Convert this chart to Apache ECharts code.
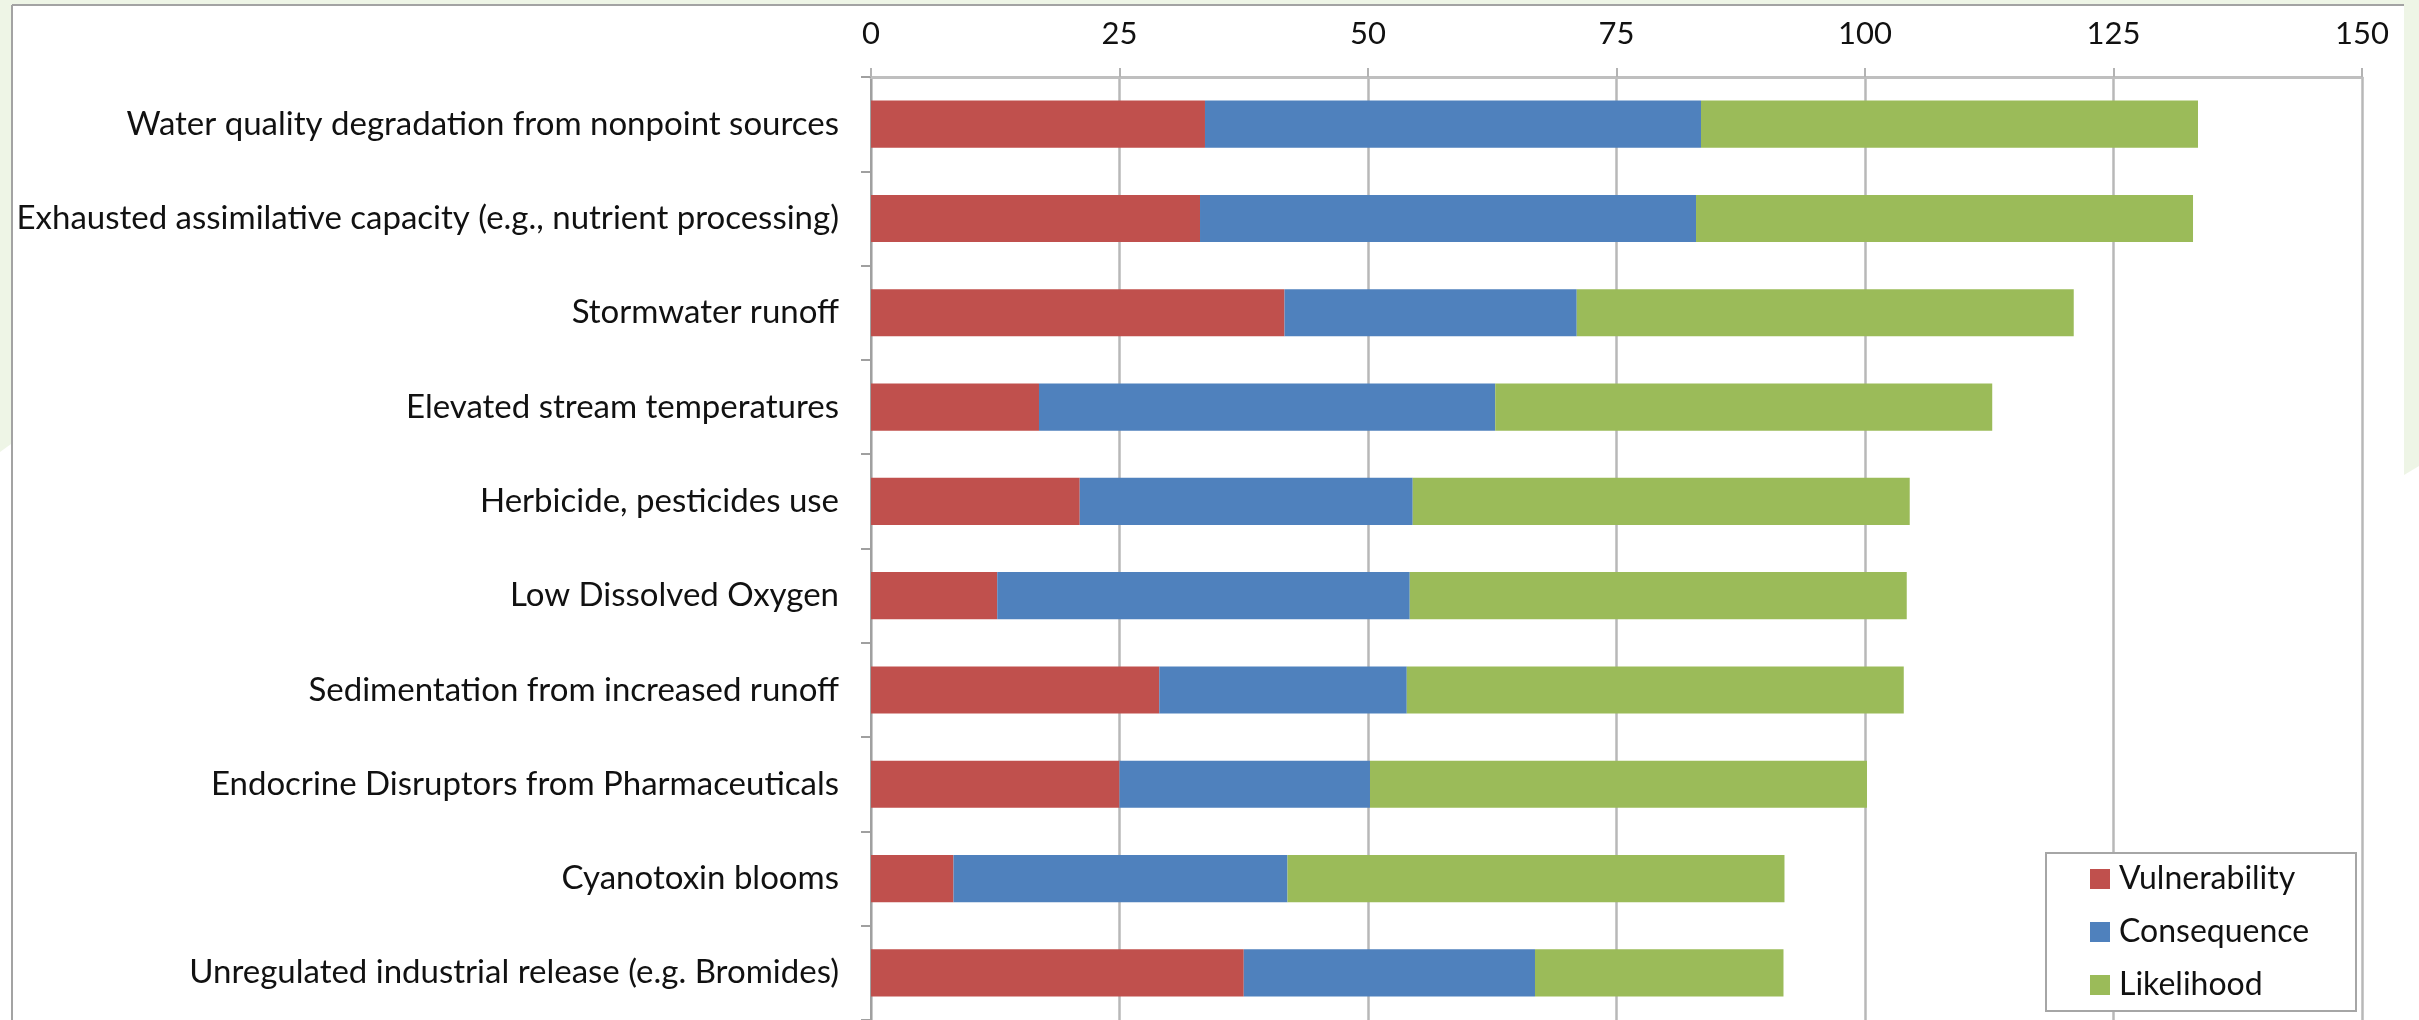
<!DOCTYPE html>
<html>
<head>
<meta charset="utf-8">
<title>Water quality stressors</title>
<script src="https://cdn.jsdelivr.net/npm/echarts@6/dist/echarts.min.js"></script>
<style>
  html, body { margin: 0; padding: 0; background: #ffffff; }
  #chart { width: 2419px; height: 1020px; }
</style>
</head>
<body>
<div id="chart"></div>
<script>
// Stressors, ranked top to bottom by combined score
const categories = [
  'Water quality degradation from nonpoint sources',
  'Exhausted assimilative capacity (e.g., nutrient processing)',
  'Stormwater runoff',
  'Elevated stream temperatures',
  'Herbicide, pesticides use',
  'Low Dissolved Oxygen',
  'Sedimentation from increased runoff',
  'Endocrine Disruptors from Pharmaceuticals',
  'Cyanotoxin blooms',
  'Unregulated industrial release (e.g. Bromides)'
];

// Score components (stacked)
const vulnerability = [33.6, 33.1, 41.6, 16.9, 21.0, 12.7, 29.0, 25.0, 8.3, 37.5];
const consequence   = [49.9, 49.9, 29.4, 45.9, 33.5, 41.5, 24.9, 25.2, 33.6, 29.3];
const likelihood    = [50, 50, 50, 50, 50, 50, 50, 50, 50, 25];

const seriesNames = ['Vulnerability', 'Consequence', 'Likelihood'];
const seriesColors = ['#C0504D', '#4F81BD', '#9BBB59'];

// Value axis ticks
const axisMin = 0;
const axisMax = 150;
const axisStep = 25;

const FONT = 'Lato, "Open Sans", sans-serif';
const SLIDE_GREEN = '#EEF5E6';
const FRAME_GRAY = '#A3A3A3';

const chart = echarts.init(document.getElementById('chart'), null, { renderer: 'canvas' });

const seriesData = [vulnerability, consequence, likelihood];

const option = {
  backgroundColor: '#ffffff',
  animation: false,
  textStyle: { fontFamily: FONT },
  graphic: [
    // slide background strips around the chart frame
    { type: 'rect', shape: { x: 0, y: 0, width: 2419, height: 5 }, style: { fill: SLIDE_GREEN }, silent: true },
    { type: 'polygon', shape: { points: [[0, 0], [11, 0], [11, 444], [0, 452]] }, style: { fill: SLIDE_GREEN }, silent: true },
    { type: 'polygon', shape: { points: [[2404, 0], [2419, 0], [2419, 466], [2404, 475]] }, style: { fill: SLIDE_GREEN }, silent: true },
    // chart frame edges
    { type: 'line', shape: { x1: 12, y1: 5, x2: 2404, y2: 5 }, style: { stroke: FRAME_GRAY, lineWidth: 2 }, silent: true },
    { type: 'line', shape: { x1: 12, y1: 5, x2: 12, y2: 1020 }, style: { stroke: FRAME_GRAY, lineWidth: 2 }, silent: true }
  ],
  grid: {
    left: 871,
    top: 77,
    width: 1491,
    height: 945,
    containLabel: false
  },
  legend: {
    orient: 'vertical',
    left: 2046,
    top: 853,
    padding: [10, 10, 10, 44],
    itemWidth: 20,
    itemHeight: 20,
    itemGap: 21,
    icon: 'rect',
    backgroundColor: '#ffffff',
    borderColor: '#A6A6A6',
    borderWidth: 2,
    data: seriesNames,
    textStyle: {
      fontFamily: FONT,
      fontSize: 32,
      lineHeight: 30,
      color: '#111111',
      width: 227,
      padding: [0, 0, 0, 4]
    }
  },
  xAxis: {
    type: 'value',
    position: 'top',
    min: axisMin,
    max: axisMax,
    interval: axisStep,
    axisLine: { show: true, lineStyle: { color: '#BFBFBF', width: 3 } },
    axisTick: { show: true, length: 9, lineStyle: { color: '#B3B3B3', width: 2 } },
    splitLine: { show: true, lineStyle: { color: '#B8B8B8', width: 2.5 } },
    axisLabel: {
      margin: 28,
      color: '#111111',
      fontFamily: FONT,
      fontSize: 31
    }
  },
  yAxis: {
    type: 'category',
    inverse: true,
    data: categories,
    axisLine: { show: true, lineStyle: { color: '#A0A0A0', width: 2 } },
    axisTick: { show: true, length: 10, lineStyle: { color: '#A0A0A0', width: 2 } },
    axisLabel: {
      margin: 32,
      color: '#111111',
      fontFamily: FONT,
      fontSize: 33
    }
  },
  series: seriesNames.map((name, i) => ({
    name: name,
    type: 'bar',
    stack: 'score',
    barWidth: '50%',
    data: seriesData[i],
    itemStyle: { color: seriesColors[i] },
    emphasis: { disabled: true }
  }))
};

chart.setOption(option);
</script>
</body>
</html>
